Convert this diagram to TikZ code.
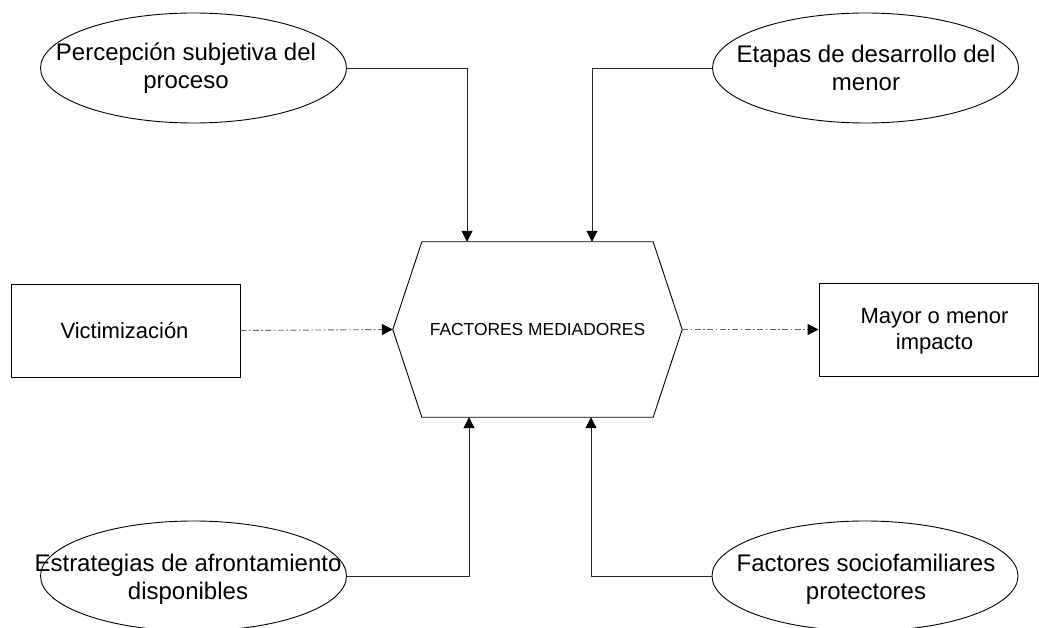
\documentclass[tikz,border=0pt]{standalone}
\usepackage{fontspec}
\setmainfont{Liberation Sans}
\usetikzlibrary{shapes.geometric,arrows.meta}

\tikzset{
  oval/.style={shape=ellipse, draw, line width=0.9pt, minimum width=306pt, minimum height=110pt, inner sep=0pt},
  label text/.style={align=center, inner sep=0pt, font=\fontsize{24}{28}\selectfont},
  boxnode/.style={draw, line width=0.9pt, minimum width=229pt, minimum height=93pt, inner sep=0pt},
  box text/.style={align=center, inner sep=0pt, font=\fontsize{22}{25.5}\selectfont},
  feed/.style={line width=0.9pt, draw=black!85, -{Triangle[length=11pt,width=11pt,color=black]}},
  flow/.style={line width=0.9pt, draw=black!60, dash pattern=on 6pt off 2.5pt on 1.5pt off 2.5pt,
    -{Triangle[length=11pt,width=11pt,color=black]}}
}

\begin{document}
\begin{tikzpicture}[x=1pt, y=-1pt]
  \clip (0,0) rectangle (1039,628);
  \useasboundingbox (0,0) rectangle (1039,628);

  % central hexagon
  \node[minimum width=289pt, minimum height=175pt, inner sep=0pt,
        font=\fontsize{17.4}{20}\selectfont] (fm) at (537.5,329.5) {FACTORES MEDIADORES};
  \draw[line width=0.9pt] (fm.west) -- ([xshift=29pt]fm.north west) -- ([xshift=-29pt]fm.north east)
    -- (fm.east) -- ([xshift=-29pt]fm.south east) -- ([xshift=29pt]fm.south west) -- cycle;

  % ovals
  \node[oval] (pe) at (193.5,68) {};
  \node[label text] at (186,68) {Percepción subjetiva del\\proceso};
  \node[oval] (et) at (865.5,68) {};
  \node[label text] at (866,68) {Etapas de desarrollo del\\menor};
  \node[oval] (es) at (193.5,576) {};
  \node[label text] at (188,579) {Estrategias de afrontamiento\\disponibles};
  \node[oval] (fs) at (865,576) {};
  \node[label text] at (866,579) {Factores sociofamiliares\\protectores};

  % side boxes
  \node[boxnode] (vi) at (125.5,330.5) {};
  \node[box text] at (124.5,331) {Victimización};
  \node[boxnode, minimum width=219pt] (ma) at (928.5,329.5) {};
  \node[box text] at (934.5,331) {Mayor o menor\\impacto};

  % connectors
  \coordinate (t1) at (467,0);
  \coordinate (t2) at (592,0);
  \coordinate (b1) at (469,0);
  \coordinate (b2) at (591,0);
  \draw[feed] (pe.east) -| (t1 |- fm.north);
  \draw[feed] (et.west) -| (t2 |- fm.north);
  \draw[feed] (es.east) -| (b1 |- fm.south);
  \draw[feed] (fs.west) -| (b2 |- fm.south);
  \draw[flow] (vi.east) -- (fm.west);
  \draw[flow] (fm.east) -- (ma.west);
\end{tikzpicture}
\end{document}
